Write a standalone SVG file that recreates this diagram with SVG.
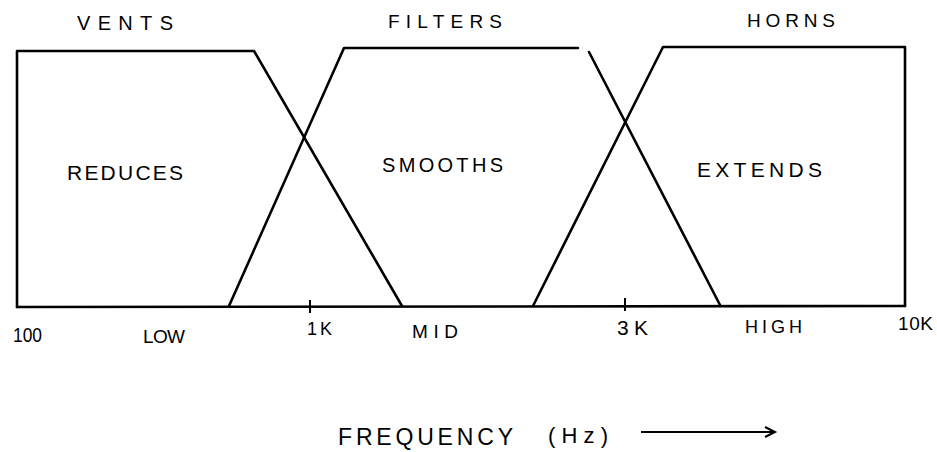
<svg xmlns="http://www.w3.org/2000/svg" width="937" height="452" viewBox="0 0 937 452">
<style>
.ln{fill:none;stroke:#000;stroke-width:2.6;stroke-linecap:round;stroke-linejoin:round}
.tk{fill:none;stroke:#000;stroke-width:2}
.t{font-family:"Liberation Sans","DejaVu Sans",sans-serif;fill:#000;lengthAdjust:spacing}
</style>
<defs>
<marker id="ah" markerWidth="14" markerHeight="14" refX="11" refY="6" orient="auto" markerUnits="userSpaceOnUse">
<path d="M1,1 L11,6 L1,11" fill="none" stroke="#000" stroke-width="2"/>
</marker>
</defs>
<rect width="937" height="452" fill="#fff"/>
<g id="vents">
<path class="ln" d="M17,307 L17,51 L254,51 L402,306"/>
<text class="t" x="77" y="30" font-size="20" textLength="96" lengthAdjust="spacing">VENTS</text>
<text class="t" x="67" y="180" font-size="21" textLength="116" lengthAdjust="spacing">REDUCES</text>
</g>
<g id="filters">
<path class="ln" d="M229,306 L344,48 L578,48"/>
<path class="ln" d="M589,52 L720,305"/>
<text class="t" x="388" y="28" font-size="19" textLength="114" lengthAdjust="spacing">FILTERS</text>
<text class="t" x="382" y="172" font-size="20" textLength="121" lengthAdjust="spacing">SMOOTHS</text>
</g>
<g id="horns">
<path class="ln" d="M533,306 L663,47 L905,47 L905,306"/>
<text class="t" x="747" y="27" font-size="19" textLength="88" lengthAdjust="spacing">HORNS</text>
<text class="t" x="697" y="177" font-size="21" textLength="125" lengthAdjust="spacing">EXTENDS</text>
</g>
<g id="axis">
<path class="ln" d="M17,307 L905,306"/>
<path class="tk" d="M310,300 L310,313 M625,298 L625,311"/>
<text class="t" x="13" y="342" font-size="21" textLength="29" lengthAdjust="spacingAndGlyphs">100</text>
<text class="t" x="143" y="343" font-size="19" textLength="42" lengthAdjust="spacing">LOW</text>
<text class="t" x="307" y="335" font-size="18" textLength="25" lengthAdjust="spacing">1K</text>
<text class="t" x="412" y="338" font-size="19" textLength="46" lengthAdjust="spacing">MID</text>
<text class="t" x="617" y="335" font-size="21" textLength="31" lengthAdjust="spacing">3K</text>
<text class="t" x="745" y="333" font-size="18" textLength="57" lengthAdjust="spacing">HIGH</text>
<text class="t" x="898" y="330" font-size="19" textLength="35" lengthAdjust="spacing">10K</text>
</g>
<g id="title">
<text class="t" x="338" y="445" font-size="23" textLength="175" lengthAdjust="spacing">FREQUENCY</text>
<text class="t" x="548" y="443" font-size="22" textLength="60" lengthAdjust="spacing">(Hz)</text>
<path class="tk" d="M641,432 L775,432" marker-end="url(#ah)"/>
</g>
</svg>
